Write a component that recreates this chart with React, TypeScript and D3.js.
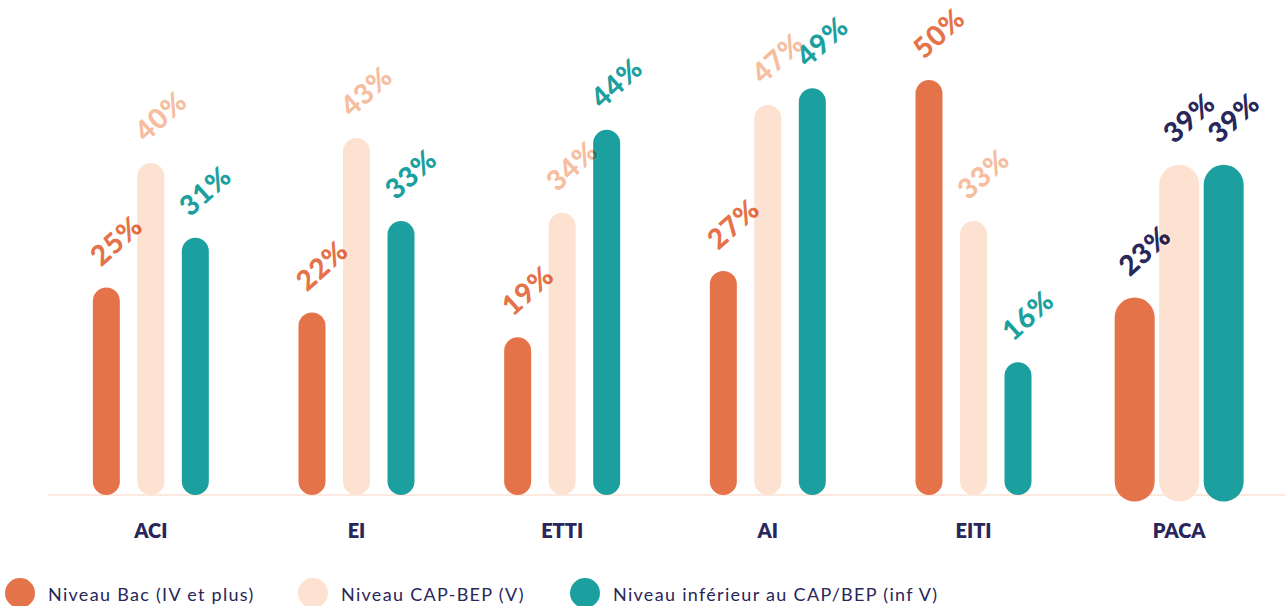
import React from "react";
import * as d3 from "d3";

const categories = ["ACI", "EI", "ETTI", "AI", "EITI", "PACA"];
const seriesNames = ["Niveau Bac (IV et plus)", "Niveau CAP-BEP (V)", "Niveau inférieur au CAP/BEP (inf V)"];
const bacValues = [25, 22, 19, 27, 50, 23];
const capValues = [40, 43, 34, 47, 33, 39];
const infValues = [31, 33, 44, 49, 16, 39];

const barColors = ["#e4734a", "#fde1d1", "#1ca09f"];
const labelColors = ["#e4734a", "#f6bd9f", "#1ca09f"];
const navy = "#28265a";

const W = 1285;
const H = 606;
const baseY = 495;

function multiply(a: string, b: string) {
  const ca = d3.rgb(a);
  const cb = d3.rgb(b);
  return d3.rgb((ca.r * cb.r) / 255, (ca.g * cb.g) / 255, (ca.b * cb.b) / 255).formatHex();
}

export default function App() {
  const series = [bacValues, capValues, infValues];
  const x = d3.scaleBand<string>().domain(categories).range([48, 1282]).padding(0);
  const inner = d3.scaleBand<number>().domain([0, 1, 2]).range([-66.75, 66.75]).padding(0);
  const y = d3.scaleLinear().domain([0, 50]).range([baseY, baseY - 415]);
  const baseW = 27;
  const r0 = baseW / 2;
  const legendX = [20, 313, 585];

  const marks = categories.flatMap((c, i) => {
    const gx = (x(c) as number) + x.bandwidth() / 2;
    const isPaca = c === "PACA";
    const sw = isPaca ? 40 : baseW;
    return series.map((vals, s) => {
      const cx = gx + (inner(s) as number) + inner.bandwidth() / 2;
      const v = vals[i];
      const yTop = y(v);
      const top = yTop + r0 - sw / 2;
      const bottom = baseY - r0 + sw / 2;
      return { c, s, cx, v, sw, isPaca, top, bottom };
    });
  });

  const barRect = (m: (typeof marks)[number], key: string, fill?: string) => (
    <rect
      key={key}
      x={m.cx - m.sw / 2}
      y={m.top}
      width={m.sw}
      height={m.bottom - m.top}
      rx={m.sw / 2}
      ry={m.sw / 2}
      fill={fill}
    />
  );

  return (
    <svg width={W} height={H} style={{ position: "absolute", left: 0, top: 0, fontFamily: "Lato, 'Noto Sans', sans-serif" }}>
      <defs>
        {[0, 1, 2].map((k) => (
          <clipPath key={k} id={`bars-${k}`}>
            {marks.filter((m) => m.s === k).map((m) => barRect(m, `c-${m.c}-${k}`))}
          </clipPath>
        ))}
      </defs>
      <rect width={W} height={H} fill="#ffffff" />
      <line x1={48} x2={1285} y1={baseY} y2={baseY} stroke="#fbe3d6" strokeWidth={1.5} />
      {marks.map((m) => barRect(m, `b-${m.c}-${m.s}`, barColors[m.s]))}
      {marks.map((m) => {
        const lx = m.cx - 5;
        const ly = m.top - 20;
        const col = m.isPaca ? navy : labelColors[m.s];
        const props = {
          x: lx,
          y: ly,
          transform: `rotate(-42, ${lx}, ${ly})`,
          fontSize: 28,
          fontWeight: 900,
          letterSpacing: 0.8,
        };
        return (
          <g key={`l-${m.c}-${m.s}`}>
            <text {...props} fill={col}>{`${m.v}%`}</text>
            {[0, 1, 2].map((k) => (
              <g key={k} clipPath={`url(#bars-${k})`}>
                <text {...props} fill={multiply(col, barColors[k])}>{`${m.v}%`}</text>
              </g>
            ))}
          </g>
        );
      })}
      {categories.map((c) => {
        const gx = (x(c) as number) + x.bandwidth() / 2;
        return (
          <text key={c} x={gx} y={538} textAnchor="middle" fill={navy} fontSize={20} fontWeight={800}>
            {c}
          </text>
        );
      })}
      {seriesNames.map((n, s) => (
        <g key={n}>
          <circle cx={legendX[s]} cy={593} r={15} fill={barColors[s]} />
          <text x={legendX[s] + 28} y={601} fill={navy} fontSize={18} letterSpacing={1.3}>
            {n}
          </text>
        </g>
      ))}
    </svg>
  );
}
